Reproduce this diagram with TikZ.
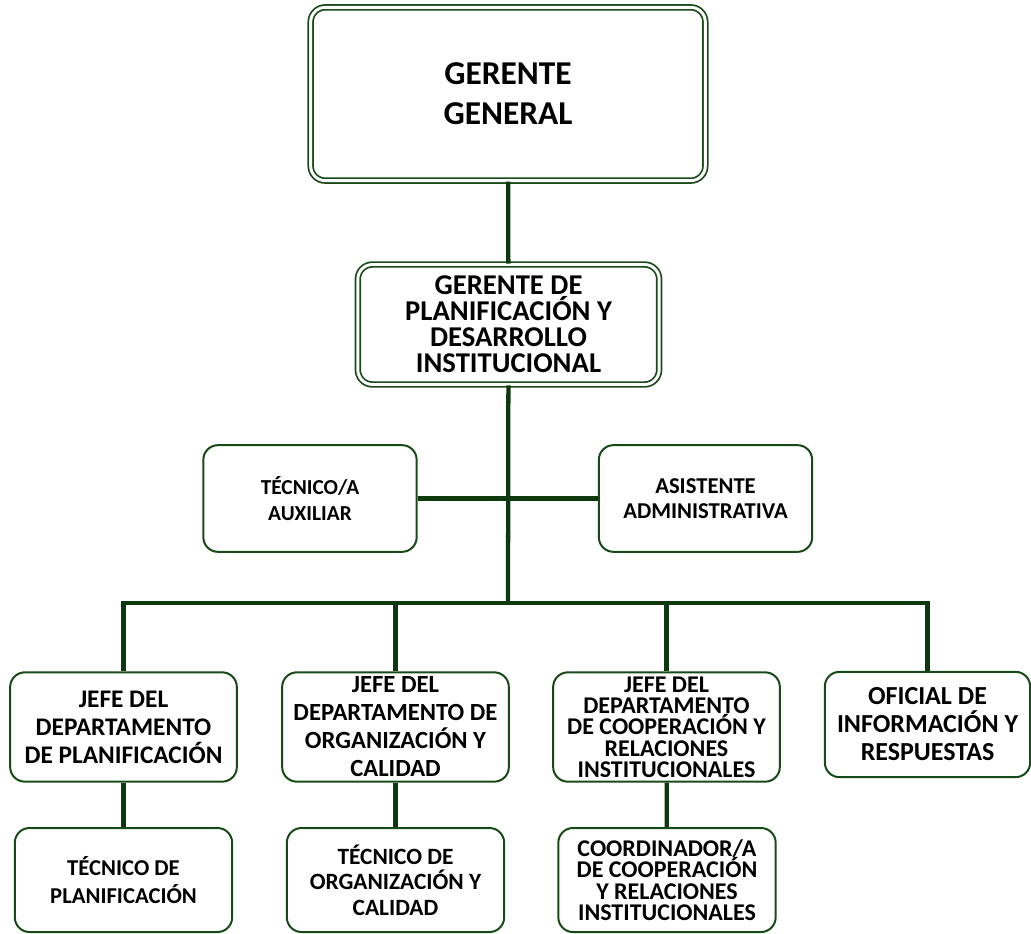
\documentclass[tikz,border=0pt]{standalone}
\usepackage{fontspec}
\setmainfont{Carlito}
\usetikzlibrary{positioning}
\definecolor{verdeborde}{RGB}{24,74,24}
\definecolor{verdelinea}{RGB}{14,56,14}
\tikzset{
  cargo/.style={draw=verdeborde, line width=1.5pt, rounded corners=11pt, align=center,
    inner sep=0pt, fill=white, font=\bfseries\fontsize{18.5}{21}\selectfont},
  gerencia/.style={cargo, double=white, double distance=2.2pt, line width=1.3pt},
  enlace/.style={draw=verdelinea, line width=3.2pt}
}
\begin{document}
\begin{tikzpicture}[x=0.75pt,y=-0.75pt]
  \useasboundingbox (0,0) rectangle (1031,934);
  \node[gerencia, minimum width=296pt, minimum height=130pt,
    font=\bfseries\fontsize{25}{30}\selectfont] (gg) at (508,94) {GERENTE\\GENERAL};
  \node[gerencia, minimum width=226pt, minimum height=90pt,
    font=\bfseries\fontsize{21.5}{19.5}\selectfont] (gp) at (508.5,324.5)
    {GERENTE DE\\PLANIFICACIÓN Y\\DESARROLLO\\INSTITUCIONAL};
  \node[cargo, minimum width=160pt, minimum height=80pt,
    font=\bfseries\fontsize{16}{19}\selectfont] (tec) at (310,498.5) {TÉCNICO/A\\AUXILIAR};
  \node[cargo, minimum width=160pt, minimum height=80pt,
    font=\bfseries\fontsize{17}{19}\selectfont] (asis) at (705.5,498.5) {ASISTENTE\\ADMINISTRATIVA};
  \node[cargo, minimum width=170pt, minimum height=82pt,
    font=\bfseries\fontsize{19}{21}\selectfont] (jplan) at (123.5,727)
    {JEFE DEL\\DEPARTAMENTO\\DE PLANIFICACIÓN};
  \node[cargo, minimum width=170pt, minimum height=82pt] (jorg) at (395.5,727)
    {JEFE DEL\\DEPARTAMENTO DE\\ORGANIZACIÓN Y\\CALIDAD};
  \node[cargo, minimum width=170pt, minimum height=82pt,
    font=\bfseries\fontsize{18}{16}\selectfont] (jcoop) at (666.5,727)
    {JEFE DEL\\DEPARTAMENTO\\DE COOPERACIÓN Y\\RELACIONES\\INSTITUCIONALES};
  \node[cargo, minimum width=154pt, minimum height=79pt,
    font=\bfseries\fontsize{19.5}{21}\selectfont] (ofi) at (927.5,724.5)
    {OFICIAL DE\\INFORMACIÓN Y\\RESPUESTAS};
  \node[cargo, minimum width=163pt, minimum height=78pt,
    font=\bfseries\fontsize{17}{21}\selectfont] (tplan) at (123.5,880)
    {TÉCNICO DE\\PLANIFICACIÓN};
  \node[cargo, minimum width=163pt, minimum height=78pt,
    font=\bfseries\fontsize{17.5}{19}\selectfont] (torg) at (395.5,880)
    {TÉCNICO DE\\ORGANIZACIÓN Y\\CALIDAD};
  \node[cargo, minimum width=163pt, minimum height=78pt,
    font=\bfseries\fontsize{18}{16}\selectfont] (coord) at (667,880)
    {COORDINADOR/A\\DE COOPERACIÓN\\Y RELACIONES\\INSTITUCIONALES};
  \coordinate (bus) at (508,603);
  \draw[enlace] (gg) -- (gp);
  \draw[enlace] (gp) -- (bus);
  \draw[enlace] (tec) -- (asis);
  \draw[enlace] (jplan.north) |- (bus) -| (ofi.north);
  \draw[enlace] (jorg.north) -- (jorg.north |- bus);
  \draw[enlace] (jcoop.north) -- (jcoop.north |- bus);
  \draw[enlace] (jplan) -- (tplan);
  \draw[enlace] (jorg) -- (torg);
  \draw[enlace] (jcoop) -- (coord);
\end{tikzpicture}
\end{document}
